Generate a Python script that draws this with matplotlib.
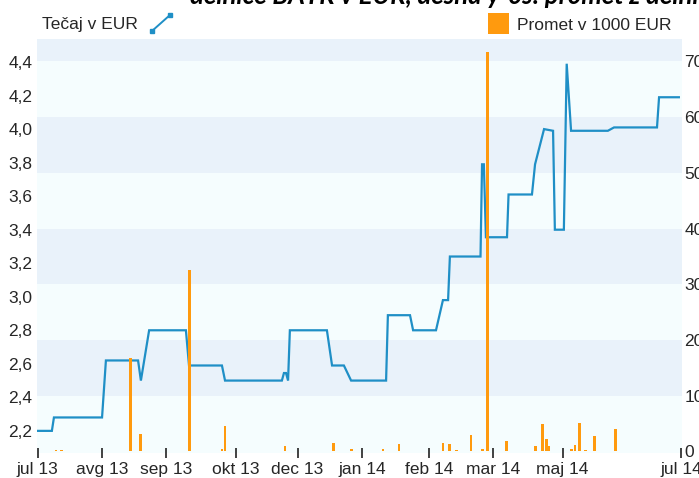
import matplotlib
matplotlib.use("Agg")
import matplotlib.pyplot as plt
from matplotlib.lines import Line2D
from matplotlib.patches import Rectangle

# ---------------- data ----------------
# x = trading-day index (jul 13 = 0 ... jul 14 = 250)
tick_pos = [0, 25, 50, 77, 101, 126, 152, 177, 204, 250]
tick_labels = ["jul 13", "avg 13", "sep 13", "okt 13", "dec 13", "jan 14",
               "feb 14", "mar 14", "maj 14", "jul 14"]

price_x = [0, 5.5, 6.3, 25, 26.5, 39.0, 40.1, 43.3, 57.6, 58.8, 71.6, 72.8,
           94.9, 95.7, 96.5, 97.3, 98.0, 112.4, 114.4, 119.0, 121.8, 135.4,
           136.1, 144.7, 145.9, 154.8, 157.5, 159.5, 160.2, 172.1, 172.7,
           173.4, 174.2, 182.4, 183.0, 192.1, 193.3, 196.8, 200.3, 201.0,
           204.5, 205.6, 207.3, 221.6, 224.0, 240.7, 241.5, 249.2]
price_y = [2.20, 2.20, 2.28, 2.28, 2.62, 2.62, 2.50, 2.80, 2.80, 2.59, 2.59, 2.50,
           2.50, 2.545, 2.545, 2.50, 2.80, 2.80, 2.59, 2.59, 2.50, 2.50,
           2.89, 2.89, 2.80, 2.80, 2.98, 2.98, 3.24, 3.24, 3.79,
           3.79, 3.355, 3.355, 3.61, 3.61, 3.79, 4.00, 3.99, 3.40,
           3.40, 4.39, 3.99, 3.99, 4.01, 4.01, 4.19, 4.19]

vol_x = [7.1, 9.4, 36.1, 40.1, 58.9, 71.6, 72.8, 82.1, 96.1, 114.8, 122.0,
         134.2, 140.4, 157.5, 160.2, 162.9, 168.4, 173.0, 174.9, 182.3, 193.5,
         196.2, 197.8, 198.7, 207.5, 208.8, 210.5, 213.0, 216.3, 224.6]
vol_y = [0.2, 0.2, 16.7, 3.1, 32.6, 0.5, 4.5, 0.15, 0.9, 1.6, 0.4,
         0.4, 1.3, 1.6, 1.3, 0.3, 3.0, 0.4, 71.7, 1.9, 1.0,
         4.9, 2.3, 1.0, 0.4, 1.2, 5.2, 0.3, 2.7, 4.1]

left_ticks = [2.2, 2.4, 2.6, 2.8, 3.0, 3.2, 3.4, 3.6, 3.8, 4.0, 4.2, 4.4]
right_ticks = [0, 10, 20, 30, 40, 50, 60, 70]

title = "delnice BATR v EUR, desna y-os: promet z delnicami v 1000 EUR"
legend_price = "Tečaj v EUR"
legend_vol = "Promet v 1000 EUR"

# ---------------- style ----------------
plt.rcParams['font.family'] = ['Liberation Sans', 'DejaVu Sans']
FS = 12.5
LINE_C = '#1f8fc6'
BAR_C = '#ff9a0e'
BAND_D = '#e9f2fa'
BAND_L = '#f5fdfe'
TXT = '#262626'

W, H = 699, 478
fig = plt.figure(figsize=(W / 100, H / 100), dpi=100)
rect = [36.7 / W, 25 / H, (681.7 - 36.7) / W, (453 - 39) / H]

ax_bg = fig.add_axes(rect)
ax_line = ax_bg.twinx()
ax_bar = ax_bg.twinx()

xlim = (-0.4, 250.3)
rlim = (-0.27, 74.0)
llim = (2.068, 4.5375)

# background bands (in right-axis units)
ax_bg.set_ylim(*rlim)
ax_bg.set_xlim(*xlim)
edges = right_ticks + [rlim[1]]
for i, hi in enumerate(edges[1:]):
    base = rlim[0] if i == 0 else edges[i]
    ax_bg.axhspan(base, hi, color=BAND_L if i % 2 == 0 else BAND_D, lw=0, zorder=0)
ax_bg.set_yticks([])
for s in ax_bg.spines.values():
    s.set_visible(False)
ax_bg.set_xticks(tick_pos)
ax_bg.set_xticklabels(tick_labels, fontsize=FS, color=TXT)
ax_bg.tick_params(axis='x', direction='inout', length=7, width=1.2, color='#222222', pad=3)

# price line
ax_line.plot(price_x, price_y, color=LINE_C, lw=1.6, solid_joinstyle='miter')
ax_line.set_ylim(*llim)
ax_line.set_xlim(*xlim)
ax_line.yaxis.tick_left()
ax_line.set_yticks(left_ticks)
ax_line.set_yticklabels([f"{v:.1f}".replace('.', ',') for v in left_ticks], fontsize=FS, color=TXT)
ax_line.tick_params(axis='y', length=0, pad=3)
for s in ax_line.spines.values():
    s.set_visible(False)

# volume bars
ax_bar.bar(vol_x, vol_y, width=1.1, color=BAR_C, lw=0)
ax_bar.set_ylim(*rlim)
ax_bar.set_xlim(*xlim)
ax_bar.set_yticks(right_ticks)
ax_bar.set_yticklabels([str(v) for v in right_ticks], fontsize=FS, color=TXT)
ax_bar.tick_params(axis='y', length=0, pad=2)
for s in ax_bar.spines.values():
    s.set_visible(False)

# title (mostly cut off at the top)
fig.text(190 / W, 1 - 4.5 / H, title, fontsize=18.5, fontweight='bold', style='italic',
         family=['Lato', 'DejaVu Sans'], color='black', ha='left', va='baseline')

# legends
fig.text(42 / W, 1 - 25 / H, legend_price, fontsize=FS, color=TXT, ha='left', va='center')
fig.add_artist(Line2D([152 / W, 170 / W], [1 - 31 / H, 1 - 15 / H], transform=fig.transFigure,
                      color=LINE_C, lw=1.4, marker='s', markersize=3.5))
fig.add_artist(Rectangle((487.5 / W, 1 - 34 / H), 21.5 / W, 21 / H, transform=fig.transFigure,
                         facecolor=BAR_C, edgecolor='none'))
fig.text(517 / W, 1 - 25 / H, legend_vol, fontsize=FS, color=TXT, ha='left', va='center')

fig.savefig("out.png", dpi=100)
